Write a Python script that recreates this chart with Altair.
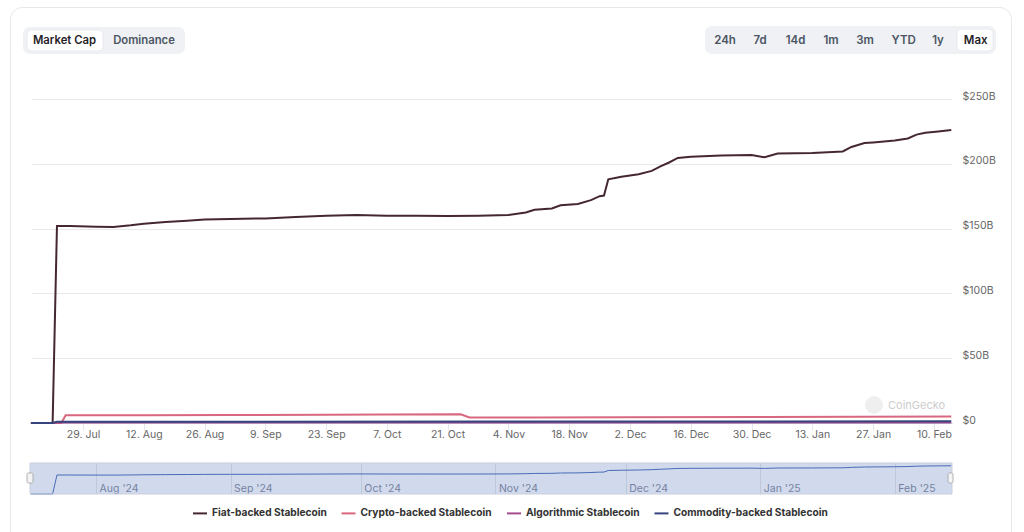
import altair as alt
import pandas as pd

# ---------------- data ----------------
series_names = ["Fiat-backed Stablecoin", "Crypto-backed Stablecoin",
                "Algorithmic Stablecoin", "Commodity-backed Stablecoin"]
series_colors = ["#45282f", "#d8677f", "#a44b8e", "#36467c"]

fiat_dates = ["2024-07-17", "2024-07-22", "2024-07-23", "2024-07-26", "2024-08-01", "2024-08-05",
              "2024-08-09", "2024-08-12", "2024-08-17", "2024-08-22", "2024-08-26", "2024-09-01",
              "2024-09-09", "2024-09-16", "2024-09-23", "2024-09-30", "2024-10-07", "2024-10-14",
              "2024-10-21", "2024-10-28", "2024-11-04", "2024-11-08", "2024-11-10", "2024-11-14",
              "2024-11-16", "2024-11-20", "2024-11-23", "2024-11-25", "2024-11-26", "2024-11-27",
              "2024-11-30", "2024-12-04", "2024-12-07", "2024-12-09", "2024-12-11", "2024-12-13",
              "2024-12-16", "2024-12-23", "2024-12-30", "2025-01-02", "2025-01-05", "2025-01-13",
              "2025-01-20", "2025-01-22", "2025-01-25", "2025-01-27", "2025-02-01", "2025-02-04",
              "2025-02-06", "2025-02-08", "2025-02-11", "2025-02-14"]
fiat_values = [0, 0, 152, 152, 151.5, 151.3, 152.5, 153.8, 155, 156,
               157, 157.5, 157.8, 159, 160, 160.5, 160, 160, 159.8, 160,
               160.5, 162.5, 164.5, 165.5, 168, 169, 172, 175, 175.5, 188,
               190, 192, 194.5, 198, 201, 204.5, 205.5, 206.5, 206.8, 205,
               208, 208.3, 209.5, 213, 216, 216.5, 218, 219.5, 222.5, 224,
               225, 226]

crypto_dates = ["2024-07-17", "2024-07-24", "2024-07-25", "2024-08-12", "2024-09-01", "2024-09-23",
                "2024-10-07", "2024-10-24", "2024-10-26", "2024-11-10", "2024-12-01", "2025-01-01",
                "2025-02-14"]
crypto_values = [0, 0, 5.9, 6.0, 6.2, 6.3, 6.6, 6.7, 4.2, 4.3, 4.5, 4.7, 5.0]

algo_dates = ["2024-07-17", "2024-07-22", "2024-07-23", "2025-02-14"]
algo_values = [0, 0, 0.4, 0.4]

commodity_dates = ["2024-07-17", "2024-07-22", "2024-07-23", "2024-11-01", "2025-02-14"]
commodity_values = [0, 0, 1.0, 1.1, 1.3]

x_tick_dates = ["2024-07-29", "2024-08-12", "2024-08-26", "2024-09-09", "2024-09-23", "2024-10-07",
                "2024-10-21", "2024-11-04", "2024-11-18", "2024-12-02", "2024-12-16", "2024-12-30",
                "2025-01-13", "2025-01-27", "2025-02-10"]
nav_tick_dates = ["2024-08-01", "2024-09-01", "2024-10-01", "2024-11-01", "2024-12-01",
                  "2025-01-01", "2025-02-01"]
y_ticks = [0, 50, 100, 150, 200, 250]
x_domain = ["2024-07-17T06:00:00", "2025-02-14T04:00:00"]

left_buttons = ["Market Cap", "Dominance"]
right_buttons = ["24h", "7d", "14d", "1m", "3m", "YTD", "1y", "Max"]
watermark = "CoinGecko"


def ms(s):
    return int(pd.Timestamp(s).value // 10**6)


rows = []
for name, ds, vs in zip(series_names,
                        [fiat_dates, crypto_dates, algo_dates, commodity_dates],
                        [fiat_values, crypto_values, algo_values, commodity_values]):
    for d, v in zip(ds, vs):
        rows.append({"date": d, "value": v, "series": name})
df = pd.DataFrame(rows)
nav_df = pd.DataFrame({"date": fiat_dates, "value": fiat_values})
one = pd.DataFrame({"k": [0]})

FONT = "Inter"
W, H = 920, 324
NAV_H = 31
OX, OY = 32, 98  # absolute position of main plot origin

xscale = alt.Scale(type="utc", domain=[ms(x_domain[0]), ms(x_domain[1])])


def box(x1, y1, x2, y2, **kw):
    return alt.Chart(one).mark_rect(**kw).encode(
        x=alt.value(x1 - OX), x2=alt.value(x2 - OX),
        y=alt.value(y1 - OY), y2=alt.value(y2 - OY))


def label(txt, x, y, **kw):
    return alt.Chart(one).mark_text(text=txt, font=FONT, align="center", baseline="middle", **kw).encode(
        x=alt.value(x - OX), y=alt.value(y - OY))


ui = []
# card
ui.append(box(10.5, 6.5, 1011.5, 560, filled=False, stroke="#e6e8eb", strokeWidth=1, cornerRadius=12))
# left toggle
ui.append(box(23, 26, 185, 53, fill="#eff1f5", cornerRadius=7))
ui.append(box(27, 29, 103, 50, fill="#ffffff", stroke="#e4e7ec", strokeWidth=0.8, cornerRadius=5))
left_x = [64.5, 144]
for i, t in enumerate(left_buttons):
    ui.append(label(t, left_x[i], 39.5, fontSize=11.3, fontWeight=600,
                    color="#1f2328" if i == 0 else "#4b5563"))
# right range buttons
ui.append(box(705, 25, 996, 53, fill="#eff1f5", cornerRadius=7))
ui.append(box(957, 28, 993, 50, fill="#ffffff", stroke="#e4e7ec", strokeWidth=0.8, cornerRadius=5))
right_x = [725, 760, 795.5, 831, 865, 903.7, 938, 975.7]
for i, t in enumerate(right_buttons):
    ui.append(label(t, right_x[i], 39.5, fontSize=11.5, fontWeight=600,
                    color="#1f2328" if t == "Max" else "#4b5563"))
# watermark
ui.append(alt.Chart(one).mark_circle(size=320, color="#efefef", opacity=1).encode(
    x=alt.value(874 - OX), y=alt.value(404 - OY)))
ui.append(alt.Chart(one).mark_text(text=watermark, font=FONT, fontSize=11, align="left",
                                   baseline="middle", color="#cdcdcd").encode(
    x=alt.value(888 - OX), y=alt.value(404.5 - OY)))

lines = alt.Chart(df).mark_line(strokeWidth=2).encode(
    x=alt.X("date:T", scale=xscale,
            axis=alt.Axis(values=[ms(d) for d in x_tick_dates], format="%-d. %b", title=None,
                          labelColor="#666666", labelFontSize=10.5, labelFont=FONT,
                          tickColor="#e3e6ec", tickSize=7, labelPadding=-1, domainColor="#ccd6eb",
                          grid=False, labelFlush=False, labelOverlap=False)),
    y=alt.Y("value:Q", scale=alt.Scale(domain=[0, 250], nice=False),
            axis=alt.Axis(orient="right", values=y_ticks, title=None, ticks=False, domain=False,
                          gridColor="#e9e9e9", labelColor="#666666", labelFontSize=10.5, labelFont=FONT,
                          labelPadding=10, labelAlign="left", labelOffset=-3,
                          labelExpr="datum.value == 0 ? '$0' : '$' + datum.value + 'B'")),
    color=alt.Color("series:N", scale=alt.Scale(domain=series_names, range=series_colors),
                    sort=series_names,
                    legend=alt.Legend(orient="none", legendX=160, legendY=406, direction="horizontal",
                                      title=None, symbolType="stroke", symbolSize=196,
                                      symbolStrokeWidth=2, labelFontSize=10.2, labelFontWeight="bold",
                                      labelColor="#333333", labelFont=FONT, columnPadding=10.5,
                                      labelOffset=4, padding=0, labelLimit=0)),
)

main = alt.layer(*ui, lines).properties(width=W, height=H)

# ---------------- navigator ----------------
nav_line = alt.Chart(nav_df).mark_line(color="#3a62b0", strokeWidth=1.0).encode(
    x=alt.X("date:T", scale=xscale,
            axis=alt.Axis(values=[ms(d) for d in nav_tick_dates], format="%b '%y", title=None,
                          ticks=False, tickSize=0, domain=False, grid=True, gridColor="#e6e6e6",
                          labelColor="#7b8190", labelFontSize=10.5, labelFont=FONT, labelAlign="left",
                          labelBaseline="middle", labelPadding=-6, labelOffset=3,
                          labelFlush=False, labelOverlap=False)),
    y=alt.Y("value:Q", scale=alt.Scale(domain=[0, 248], nice=False), axis=None),
)
nav_mask = alt.Chart(one).mark_rect(fill="#6685c2", fillOpacity=0.3, stroke="#c9cfdc", strokeWidth=1).encode(
    x=alt.value(-2), x2=alt.value(W), y=alt.value(0), y2=alt.value(NAV_H))
handle_l = alt.Chart(one).mark_rect(fill="#f4f4f4", stroke="#a0a0a0", strokeWidth=0.8, cornerRadius=1.5).encode(
    x=alt.value(-5), x2=alt.value(1), y=alt.value(10), y2=alt.value(20))
handle_r = alt.Chart(one).mark_rect(fill="#f4f4f4", stroke="#a0a0a0", strokeWidth=0.8, cornerRadius=1.5).encode(
    x=alt.value(W - 4), x2=alt.value(W + 1), y=alt.value(10), y2=alt.value(20))

nav = alt.layer(nav_line, nav_mask, handle_l, handle_r).properties(width=W, height=NAV_H)

chart = alt.vconcat(main, nav, spacing=40, bounds="flush").resolve_scale(
    x="independent", y="independent").properties(
    padding={"left": 10, "top": 7, "right": 0, "bottom": 0},
    background="#ffffff",
).configure(font=FONT).configure_view(stroke=None)

chart.save("out.html", embed_options={"renderer": "svg", "actions": False})
